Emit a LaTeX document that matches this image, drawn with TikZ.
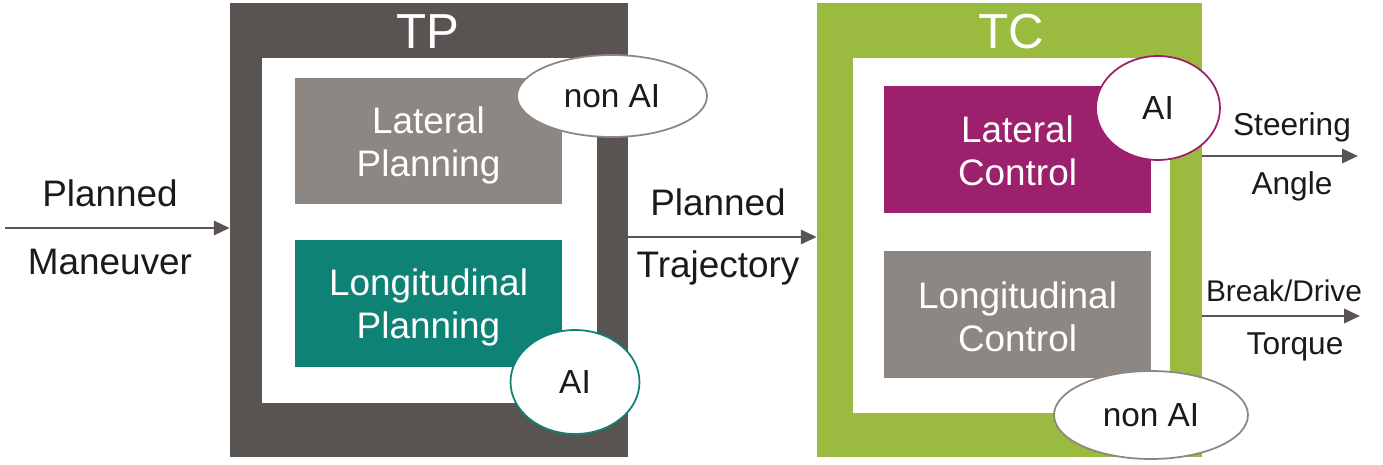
\documentclass[tikz,border=0pt]{standalone}
\usepackage{fontspec}
\setmainfont{Liberation Sans}
\usetikzlibrary{shapes.geometric, arrows.meta}
\definecolor{tpdark}{HTML}{595452}
\definecolor{blkgray}{HTML}{8C8782}
\definecolor{blkteal}{HTML}{0E8274}
\definecolor{tcgreen}{HTML}{9BBB40}
\definecolor{blkmag}{HTML}{9C206B}
\definecolor{txt}{HTML}{1A1A1A}
\tikzstyle{frame} = [rectangle, inner sep=0pt, minimum width=7.96cm, minimum height=9.08cm]
\tikzstyle{inner} = [rectangle, fill=white, inner sep=0pt]
\tikzstyle{block} = [rectangle, inner sep=0pt, minimum width=5.34cm, minimum height=2.53cm]
\tikzstyle{blocktxt} = [text=white, align=center, font=\fontsize{21}{24.5}\selectfont]
\tikzstyle{title} = [text=white, anchor=base, font=\fontsize{28}{28}\selectfont]
\tikzstyle{tag} = [ellipse, fill=white, line width=1pt, inner sep=0pt, text=txt,
    font=\fontsize{19}{22}\selectfont]
\tikzstyle{lbl} = [text=txt, font=\fontsize{21}{25}\selectfont]
\tikzstyle{outlbl} = [text=txt, font=\fontsize{18}{22}\selectfont]
\tikzstyle{flow} = [tpdark, line width=1.6pt, -{Triangle[length=9pt,width=8pt]}]

\begin{document}
\begin{tikzpicture}[x=0.02cm, y=-0.02cm]
	\useasboundingbox (0,0) rectangle (1383,464);

	% trajectory planning
	\node[frame, fill=tpdark] (tp) at (429,230) {};
	\node[inner, minimum width=6.7cm, minimum height=6.9cm] (tpin) at (429.5,230.5) {};
	\node[title] (tptitle) at (428,48) {TP};
	\node[block, fill=blkgray] (latplan) at (428.5,141) {};
	\node[block, fill=blkteal] (lonplan) at (428.5,303.5) {};
	\node[blocktxt] (latplantxt) at (428.5,145) {Lateral\\Planning};
	\node[blocktxt] (lonplantxt) at (428.5,307.5) {Longitudinal\\Planning};
	\node[tag, draw=blkgray, minimum width=3.8cm, minimum height=1.64cm] (tpnon) at (612,96) {non AI};
	\node[tag, draw=blkteal, minimum width=2.58cm, minimum height=2.08cm] (tpai) at (575,382) {AI};

	% trajectory control
	\node[frame, fill=tcgreen, minimum width=7.7cm] (tc) at (1009.5,230) {};
	\node[inner, minimum width=6.34cm, minimum height=7.1cm] (tcin) at (1011.5,235.5) {};
	\node[title] (tctitle) at (1011,48) {TC};
	\node[block, fill=blkmag] (latctl) at (1017.5,149.5) {};
	\node[block, fill=blkgray] (lonctl) at (1017.5,314.5) {};
	\node[blocktxt] (latctltxt) at (1017.5,151) {Lateral\\Control};
	\node[blocktxt] (lonctltxt) at (1017.5,317) {Longitudinal\\Control};
	\node[tag, draw=blkmag, minimum width=2.48cm, minimum height=2.08cm] (tcai) at (1158,108) {AI};
	\node[tag, draw=blkgray, minimum width=3.88cm, minimum height=1.76cm] (tcnon) at (1151,415) {non AI};

	% signals
	\coordinate (manin) at (5,228);
	\coordinate (trj) at (628,237);
	\coordinate (steer) at (1358,156);
	\coordinate (torq) at (1360,316);
	\draw[flow] (manin) -- (manin -| tp.west);
	\draw[flow] (trj) -- (trj -| tc.west);
	\draw[flow] (steer -| tc.east) -- (steer);
	\draw[flow] (torq -| tc.east) -- (torq);

	\node[lbl] (man1) at (110,193) {Planned};
	\node[lbl] (man2) at (110,262) {Maneuver};
	\node[lbl] (trj1) at (718,202) {Planned};
	\node[lbl] (trj2) at (718,268) {Trajectory};
	\node[outlbl] (st1) at (1292,127) {Steering};
	\node[outlbl] (st2) at (1292,186) {Angle};
	\node[outlbl, font=\fontsize{17}{22}\selectfont] (tq1) at (1284,291) {Break/Drive};
	\node[outlbl] (tq2) at (1295,347) {Torque};
\end{tikzpicture}
\end{document}
